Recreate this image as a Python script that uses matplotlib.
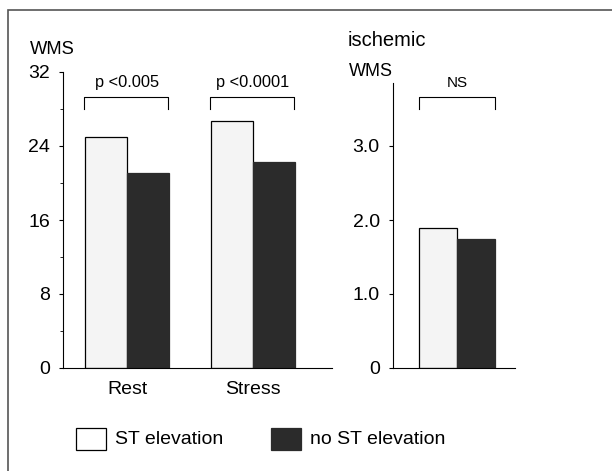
import matplotlib
matplotlib.use("Agg")
import matplotlib.pyplot as plt
from matplotlib.patches import Rectangle
from matplotlib.ticker import MultipleLocator

plt.rcParams["font.family"] = ["Liberation Sans", "DejaVu Sans"]
plt.rcParams["font.size"] = 12

# data
groups = ["Rest", "Stress"]
st_elev = [25.0, 26.7]
no_st_elev = [21.1, 22.3]
p_labels = ["p <0.005", "p <0.0001"]

isch_st = [1.89]
isch_no_st = [1.74]
isch_label = "NS"

light = "#f4f4f4"
dark = "#2b2b2b"
W, H = 612, 471

fig = plt.figure(figsize=(W / 100, H / 100), dpi=100)

def frac(x0, y_top, x1, y_bot):
    # pixel box -> figure fraction rect
    return [x0 / W, 1 - y_bot / H, (x1 - x0) / W, (y_bot - y_top) / H]

ax1 = fig.add_axes(frac(63, 72, 332, 368))
ax2 = fig.add_axes(frac(393, 72, 515, 368))

bw = 0.335
pos = list(range(len(groups)))
ax1.bar([p - bw / 2 for p in pos], st_elev, width=bw, color=light, edgecolor="black", linewidth=0.9)
ax1.bar([p + bw / 2 for p in pos], no_st_elev, width=bw, color=dark, edgecolor=dark, linewidth=0.9)
ax1.set_xlim(-0.508, 1.627)
ax1.set_ylim(0, 32)
ax1.set_yticks([0, 8, 16, 24, 32])
ax1.yaxis.set_minor_locator(MultipleLocator(4))
ax1.set_xticks(pos)
ax1.set_xticklabels(groups)

for p, lab in zip(pos, p_labels):
    x0, x1 = p - bw - 0.01, p + bw - 0.01
    ax1.plot([x0, x0, x1, x1], [28.0, 29.3, 29.3, 28.0], color="black", lw=0.8, clip_on=False)
    ax1.text(p, 30.1, lab, ha="center", va="bottom", fontsize=11.8)

bw2 = 0.3
ax2.bar([-bw2 / 2], isch_st, width=bw2, color=light, edgecolor="black", linewidth=0.9)
ax2.bar([bw2 / 2], isch_no_st, width=bw2, color=dark, edgecolor=dark, linewidth=0.9)
ax2.set_xlim(-0.508, 0.46)
ax2.set_ylim(0, 4)
ax2.set_yticks([0, 1, 2, 3])
ax2.set_yticklabels(["0", "1.0", "2.0", "3.0"])
ax2.set_xticks([])
ax2.spines["left"].set_bounds(0, 3.85)
ax2.plot([-bw2, -bw2, bw2, bw2], [3.5, 3.66, 3.66, 3.5], color="black", lw=0.8, clip_on=False)
ax2.text(0, 3.76, isch_label, ha="center", va="bottom", fontsize=11)

for ax in (ax1, ax2):
    ax.set_facecolor("none")
    ax.spines["top"].set_visible(False)
    ax.spines["right"].set_visible(False)
    ax.spines["left"].set_linewidth(0.8)
    ax.spines["bottom"].set_linewidth(0.8)
    ax.tick_params(axis="y", which="major", length=3, width=0.8, pad=6.5, labelsize=14)
    ax.tick_params(axis="y", which="minor", length=2, width=0.6)
    ax.tick_params(axis="x", length=0, pad=9, labelsize=14)

# axis titles
fig.text(30 / W, 1 - 50 / H, "WMS", ha="left", va="center", fontsize=13.2)
fig.text(348 / W, 1 - 40 / H, "ischemic", ha="left", va="center", fontsize=14.5)
fig.text(349 / W, 1 - 72 / H, "WMS", ha="left", va="center", fontsize=13)

# legend drawn by hand
fig.patches.append(Rectangle((76 / W, 1 - 450 / H), 30 / W, 22 / H, transform=fig.transFigure,
                             facecolor="white", edgecolor="black", lw=0.9))
fig.patches.append(Rectangle((271 / W, 1 - 450 / H), 30 / W, 22 / H, transform=fig.transFigure,
                             facecolor=dark, edgecolor=dark, lw=0.9))
fig.text(115 / W, 1 - 439 / H, "ST elevation", ha="left", va="center", fontsize=14)
fig.text(310 / W, 1 - 439 / H, "no ST elevation", ha="left", va="center", fontsize=14)

# outer frame
fig.patches.append(Rectangle((8 / W, -0.1), 1.2, 1 - 10 / H + 0.1, transform=fig.transFigure,
                             facecolor="none", edgecolor="#555555", lw=1.2))

fig.savefig("out.png", dpi=100)
